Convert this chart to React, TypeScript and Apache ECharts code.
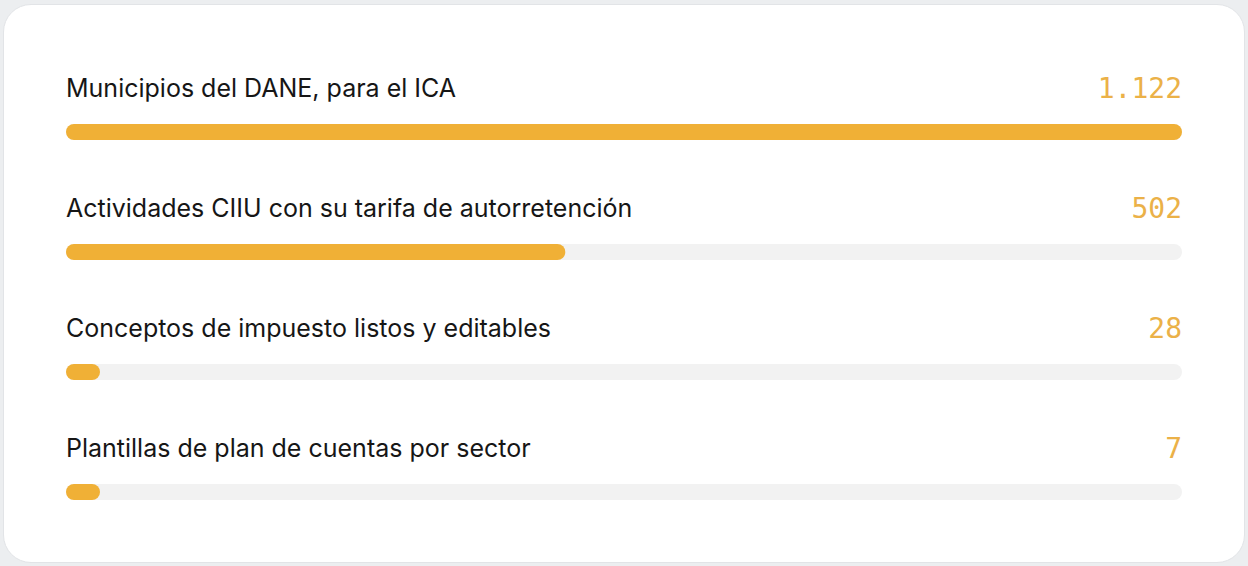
import React, { useEffect, useRef } from "react";
import * as echarts from "echarts";

const categories = [
  "Municipios del DANE, para el ICA",
  "Actividades CIIU con su tarifa de autorretención",
  "Conceptos de impuesto listos y editables",
  "Plantillas de plan de cuentas por sector",
];
const values = [1122, 502, 28, 7];
const valueLabels = ["1.122", "502", "28", "7"];
const scaleMax = 1122;

export default function App() {
  const ref = useRef<HTMLDivElement>(null);
  useEffect(() => {
    if (!ref.current) return;
    const chart = echarts.init(ref.current, undefined, { renderer: "svg" });
    chart.setOption({
      animation: false,
      grid: { left: 66, right: 66, top: 72, bottom: 14, containLabel: false },
      xAxis: { type: "value", min: 0, max: scaleMax, show: false },
      yAxis: {
        type: "category",
        data: categories,
        inverse: true,
        show: false,
      },
      series: [
        {
          type: "bar",
          name: "track",
          data: categories.map(() => scaleMax),
          barWidth: 16,
          barGap: "-100%",
          silent: true,
          z: 1,
          itemStyle: { color: "#f2f2f2", borderRadius: 8 },
          label: {
            show: true,
            position: ["100%", -36],
            align: "right",
            verticalAlign: "middle",
            formatter: (p: any) => valueLabels[p.dataIndex],
            fontFamily: "DejaVu Sans Mono",
            fontSize: 28,
            color: "#ebb148",
          },
        },
        {
          type: "bar",
          name: "value",
          data: values,
          barWidth: 16,
          barMinHeight: 34,
          z: 2,
          itemStyle: { color: "#f0b036", borderRadius: 8 },
        },
        {
          type: "bar",
          name: "labels",
          data: categories.map(() => scaleMax),
          barWidth: 16,
          barGap: "-100%",
          silent: true,
          z: 3,
          itemStyle: { color: "transparent" },
          label: {
            show: true,
            position: [0, -36],
            align: "left",
            verticalAlign: "middle",
            formatter: (p: any) => categories[p.dataIndex],
            fontFamily: "Inter",
            fontSize: 25,
            color: "#161616",
          },
        },
      ],
    });
    return () => chart.dispose();
  }, []);
  return (
    <div style={{ position: "fixed", left: 0, top: 0, width: 1248, height: 566, background: "#eceef0" }}>
      <div
        style={{
          position: "absolute",
          left: 3,
          top: 4,
          width: 1240,
          height: 557,
          background: "#ffffff",
          borderRadius: 28,
          border: "1px solid #e2e4e7",
        }}
      />
      <div ref={ref} style={{ position: "absolute", left: 0, top: 0, width: 1248, height: 566 }} />
    </div>
  );
}
